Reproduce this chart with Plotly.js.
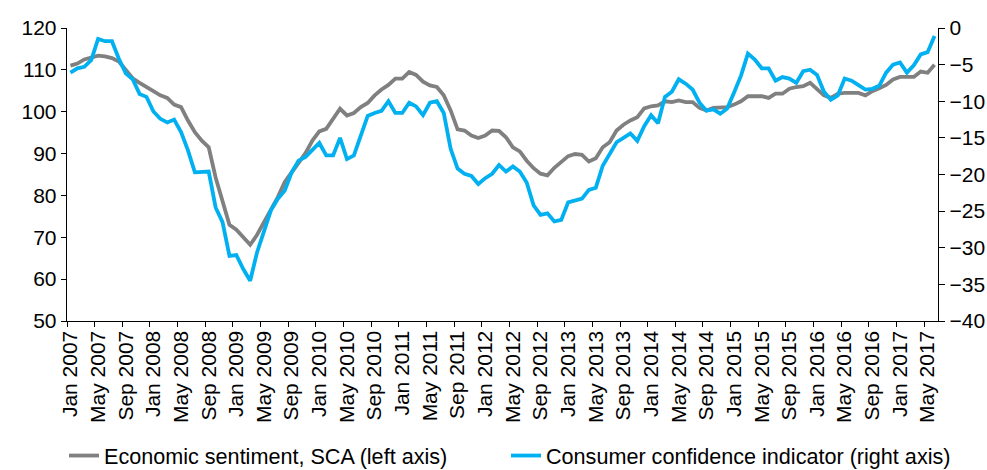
<!DOCTYPE html>
<html><head><meta charset="utf-8">
<script src="https://cdn.plot.ly/plotly-3.0.1.min.js"></script>
<style>html,body{margin:0;padding:0;background:#fff}#chart{width:987px;height:470px}</style>
</head><body><div id="chart"></div>
<script>
// Monthly data, Jan 2007 - Jun 2017
const startYear = 2007;
const monthNames = ['Jan','Feb','Mar','Apr','May','Jun','Jul','Aug','Sep','Oct','Nov','Dec'];

const economicSentiment = [
  111.0,111.5,112.5,112.9,113.4,113.2,112.8,112.0,109.9,108.0,106.9,106.0,
  104.9,103.9,103.3,101.7,101.1,97.9,95.1,93.1,91.5,84.3,78.4,73.0,
  71.8,70.0,68.2,70.6,73.6,77.0,79.6,83.2,85.6,88.0,90.1,93.1,
  95.3,95.9,98.2,100.7,99.1,99.7,101.1,102.1,103.9,105.3,106.4,107.9,
  107.9,109.5,108.8,107.2,106.3,105.9,103.9,100.3,95.8,95.5,94.3,93.7,
  94.3,95.5,95.4,93.9,91.5,90.5,88.3,86.5,85.2,84.8,86.6,88.0,
  89.4,89.9,89.7,88.1,88.9,91.5,92.7,95.5,96.9,97.9,98.7,100.8,
  101.3,101.5,102.5,102.3,102.7,102.3,102.3,100.9,100.3,100.9,100.9,101.1,
  101.7,102.5,103.7,103.7,103.7,103.3,104.3,104.3,105.5,105.9,106.1,106.9,
  105.5,103.9,103.3,104.3,104.5,104.5,104.5,103.9,104.9,105.6,106.4,107.7,
  108.3,108.3,108.3,109.6,109.3,111.2
];

const consumerConfidence = [
  -6.1,-5.5,-5.3,-4.4,-1.5,-1.8,-1.8,-4.2,-6.2,-7.0,-9.0,-9.4,
  -11.4,-12.4,-12.9,-12.5,-14.2,-16.7,-19.7,-19.7,-19.6,-24.5,-26.5,-31.1,
  -31.0,-32.9,-34.5,-30.6,-27.9,-24.9,-23.3,-22.2,-19.7,-18.1,-17.6,-16.7,
  -15.7,-17.4,-17.4,-15.0,-17.9,-17.4,-14.7,-12.0,-11.6,-11.3,-10.0,-11.6,
  -11.6,-10.2,-10.7,-11.9,-10.2,-10.0,-11.6,-16.5,-19.2,-19.9,-20.2,-21.3,
  -20.5,-19.9,-18.7,-19.6,-18.9,-19.6,-21.1,-24.2,-25.5,-25.3,-26.4,-26.2,
  -23.8,-23.6,-23.3,-22.1,-21.8,-18.8,-17.2,-15.6,-15.0,-14.4,-15.4,-13.4,
  -11.9,-13.0,-9.4,-8.7,-7.0,-7.6,-8.4,-10.2,-11.3,-11.1,-11.7,-11.0,
  -8.8,-6.5,-3.5,-4.3,-5.5,-5.5,-7.2,-6.7,-6.9,-7.5,-5.9,-5.7,
  -6.4,-8.7,-9.8,-9.2,-6.9,-7.2,-7.8,-8.4,-8.3,-7.9,-6.1,-5.0,
  -4.7,-6.1,-5.1,-3.6,-3.3,-1.1
];

const categories = economicSentiment.map((_, i) =>
  monthNames[i % 12] + ' ' + (startYear + Math.floor(i / 12)));

const seriesNames = ['Economic sentiment, SCA (left axis)', 'Consumer confidence indicator (right axis)'];

const FONT = 'Liberation Sans, Arial, sans-serif';
const font = {family: FONT, size: 21, color: '#000'};
const legendFont = {family: FONT, size: 21.6, color: '#000'};

const traces = [
  {x: categories, y: economicSentiment, name: seriesNames[0], type: 'scatter', mode: 'lines',
   line: {color: '#808080', width: 3.8}, yaxis: 'y', legend: 'legend'},
  {x: categories, y: consumerConfidence, name: seriesNames[1], type: 'scatter', mode: 'lines',
   line: {color: '#00B0F0', width: 3.8}, yaxis: 'y2', legend: 'legend2'}
];

const legendBase = {orientation: 'h', xref: 'container', yref: 'container', y: 14 / 470,
                    xanchor: 'left', yanchor: 'middle', font: legendFont,
                    bgcolor: 'rgba(0,0,0,0)', borderwidth: 0};

const layout = {
  width: 987, height: 470,
  margin: {l: 67, r: 49, t: 28, b: 149, autoexpand: false},
  paper_bgcolor: '#fff', plot_bgcolor: '#fff',
  font: font,
  showlegend: true,
  legend: Object.assign({}, legendBase, {x: 64 / 987}),
  legend2: Object.assign({}, legendBase, {x: 506 / 987}),
  xaxis: {type: 'category', tickmode: 'linear', tick0: 0, dtick: 4, tickangle: -90,
          tickson: 'boundaries', ticks: 'outside', ticklen: 5, tickcolor: '#000',
          showline: true, linecolor: '#000', linewidth: 1.3, showgrid: false, zeroline: false,
          range: [-0.5, 125.5], tickfont: font, automargin: false},
  yaxis: {range: [50, 120], dtick: 10, tick0: 50, ticks: 'outside', ticklen: 5, tickcolor: '#000',
          showline: true, linecolor: '#000', linewidth: 1.3, showgrid: false, zeroline: false,
          tickfont: font, automargin: false},
  yaxis2: {range: [-40, 0], dtick: 5, tick0: -40, overlaying: 'y', side: 'right', ticks: 'outside',
           ticklen: 6, tickcolor: '#000', showline: true, linecolor: '#000', linewidth: 1.3,
           showgrid: false, zeroline: false, tickfont: font, automargin: false}
};

Plotly.newPlot('chart', traces, layout, {displayModeBar: false, staticPlot: true});
</script>
</body></html>
